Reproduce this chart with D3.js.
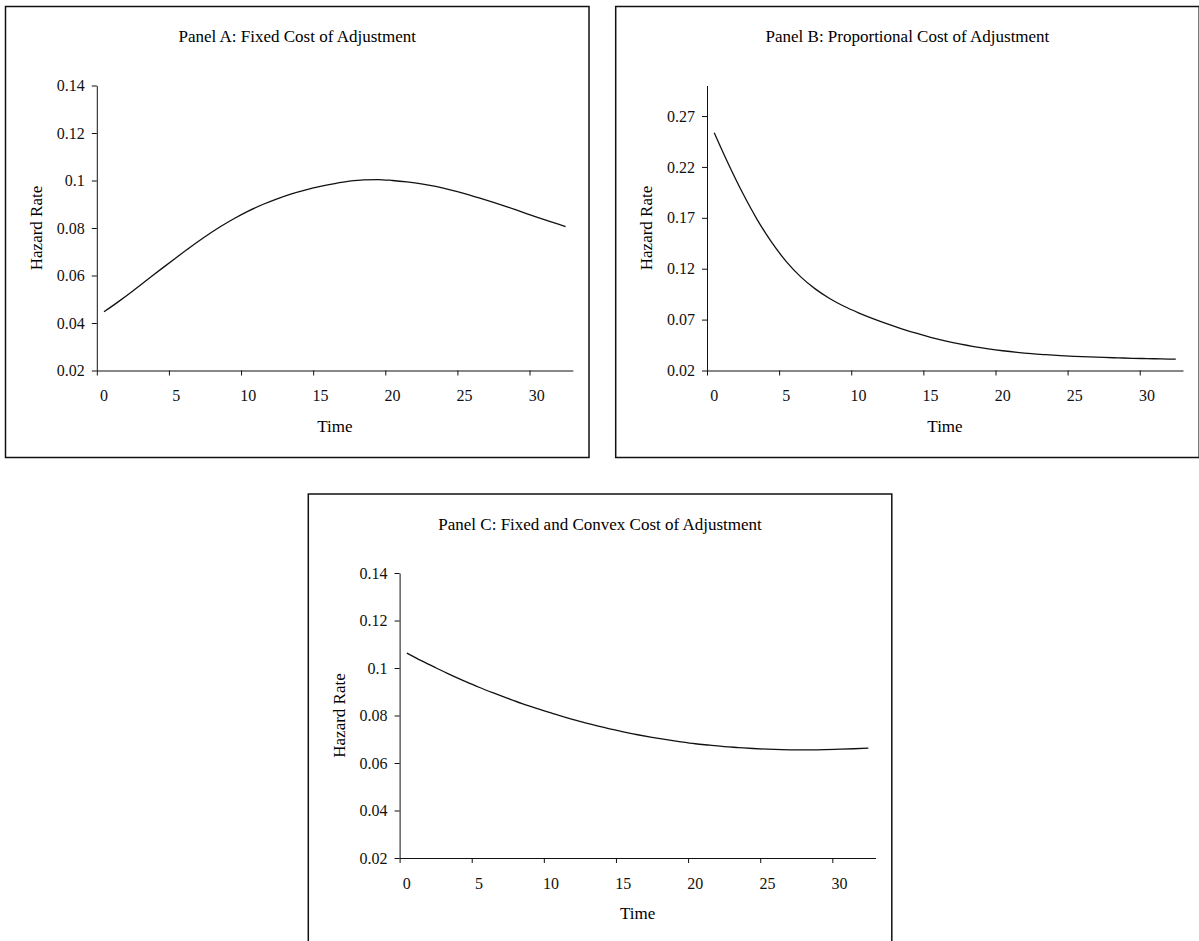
<!DOCTYPE html>
<html>
	<head>
		<meta charset="utf-8">
		<title>Hazard Rate Panels</title>
		<style>
			body { margin: 0; background: #fff; }
			svg { display: block; }
		</style>
	</head>
	<body>
		<svg></svg>
		<script src="https://d3js.org/d3.v7.min.js"></script>
		<script>
			// data
			var times = [0,1,2,3,4,5,6,7,8,9,10,11,12,13,14,15,16,17,18,19,20,21,22,23,24,25,26,27,28,29,30,31,32]
			var timeTicks = [0,5,10,15,20,25,30]

			var fixedCost = [0.0447,0.0490,0.0535,0.0582,0.0629,0.0675,0.0720,0.0763,0.0803,0.0839,0.0871,0.0899,0.0923,0.0944,0.0961,0.0975,0.0987,0.0997,0.1003,0.1004,0.1000,0.0994,0.0986,0.0975,0.0961,0.0945,0.0927,0.0908,0.0888,0.0867,0.0846,0.0826,0.0806]
			var propCost = [0.2536,0.2224,0.1936,0.1678,0.1456,0.1270,0.1120,0.1002,0.0908,0.0831,0.0767,0.0710,0.0658,0.0610,0.0566,0.0526,0.0491,0.0461,0.0435,0.0413,0.0394,0.0378,0.0365,0.0355,0.0346,0.0339,0.0333,0.0328,0.0324,0.0320,0.0317,0.0314,0.0311]
			var convexCost = [0.1063,0.1031,0.1001,0.0972,0.0945,0.0919,0.0895,0.0872,0.0850,0.0830,0.0811,0.0792,0.0775,0.0759,0.0745,0.0731,0.0719,0.0708,0.0698,0.0689,0.0681,0.0675,0.0669,0.0665,0.0661,0.0658,0.0656,0.0655,0.0655,0.0656,0.0658,0.0660,0.0663]

			var ticksAC = [0.02,0.04,0.06,0.08,0.1,0.12,0.14]
			var tickLabelsAC = ["0.02","0.04","0.06","0.08","0.1","0.12","0.14"]
			var ticksB = [0.02,0.07,0.12,0.17,0.22,0.27]
			var tickLabelsB = ["0.02","0.07","0.12","0.17","0.22","0.27"]

			var titles = ["Panel A: Fixed Cost of Adjustment", "Panel B: Proportional Cost of Adjustment", "Panel C: Fixed and Convex Cost of Adjustment"]

			// init vars
			var _width = 1199
			var _height = 941
			var _font = "'Liberation Serif', 'Times New Roman', serif"
			var _svg = d3.select("svg").attr("width", _width).attr("height", _height)

			// plot area inside each frame
			var frameW = 583.5
			var frameH = 451
			var plotLeft = 91.3
			var plotTop = 79
			var plotBottom = 364
			var plotW = 476

			function addPanel(left, top, title, values, yMax, yTicks, yLabels) {
				var g = _svg.append("g").attr("transform", "translate(" + left + "," + top + ")")

				// frame
				g.append("rect")
					.attr("x", 0).attr("y", 0)
					.attr("width", frameW).attr("height", frameH)
					.attr("fill", "none")
					.attr("stroke", "#111")
					.attr("stroke-width", 1.5)

				// title
				g.append("text")
					.attr("x", frameW / 2).attr("y", 35.6)
					.attr("text-anchor", "middle")
					.style("font-family", _font).style("font-size", "17px")
					.text(title)

				// scales
				var x = d3.scaleBand().domain(times).range([plotLeft, plotLeft + plotW])
				var xEdge = d3.scaleLinear().domain([0, times.length]).range([plotLeft, plotLeft + plotW])
				var y = d3.scaleLinear().domain([0.02, yMax]).range([plotBottom, plotTop])

				// x axis: tick marks at category edges, labels at category centres
				g.append("g")
					.attr("transform", "translate(0," + plotBottom + ")")
					.call(d3.axisBottom(xEdge).tickValues(timeTicks).tickFormat("").tickSize(5).tickSizeOuter(0))
				var xLabelAxis = g.append("g")
					.attr("transform", "translate(0," + plotBottom + ")")
					.call(d3.axisBottom(x).tickValues(timeTicks).tickSize(0).tickPadding(19.6))
				xLabelAxis.select(".domain").remove()

				// y axis
				g.append("g")
					.attr("transform", "translate(" + plotLeft + ",0)")
					.call(d3.axisLeft(y).tickValues(yTicks).tickSize(5).tickSizeOuter(0).tickPadding(7)
						.tickFormat(function(d, i) { return yLabels[i] }))

				g.selectAll(".tick text")
					.style("font-family", _font).style("font-size", "16px").attr("fill", "#111")
				g.selectAll(".domain, .tick line").attr("stroke", "#111")

				// axis titles
				g.append("text")
					.attr("transform", "translate(36.5," + (plotTop + plotBottom) / 2 + ") rotate(-90)")
					.attr("text-anchor", "middle")
					.style("font-family", _font).style("font-size", "17px")
					.text("Hazard Rate")
				g.append("text")
					.attr("x", plotLeft + plotW / 2).attr("y", plotBottom + 61)
					.attr("text-anchor", "middle")
					.style("font-family", _font).style("font-size", "17px")
					.text("Time")

				// line
				var line = d3.line()
					.x(function(d, i) { return x(times[i]) + x.bandwidth() / 2 })
					.y(function(d) { return y(d) })
					.curve(d3.curveMonotoneX)
				g.append("path")
					.datum(values)
					.attr("d", line)
					.attr("fill", "none")
					.attr("stroke", "#111")
					.attr("stroke-width", 1.3)

				return g
			}

			// panel A
			addPanel(5.5, 6.5, titles[0], fixedCost, 0.14, ticksAC, tickLabelsAC)
			// panel B (taller y range, axis runs past the last label)
			addPanel(615.7, 6.5, titles[1], propCost, 0.30, ticksB, tickLabelsB)
			// panel C
			addPanel(308.3, 494, titles[2], convexCost, 0.14, ticksAC, tickLabelsAC)
		</script>
	</body>
</html>
